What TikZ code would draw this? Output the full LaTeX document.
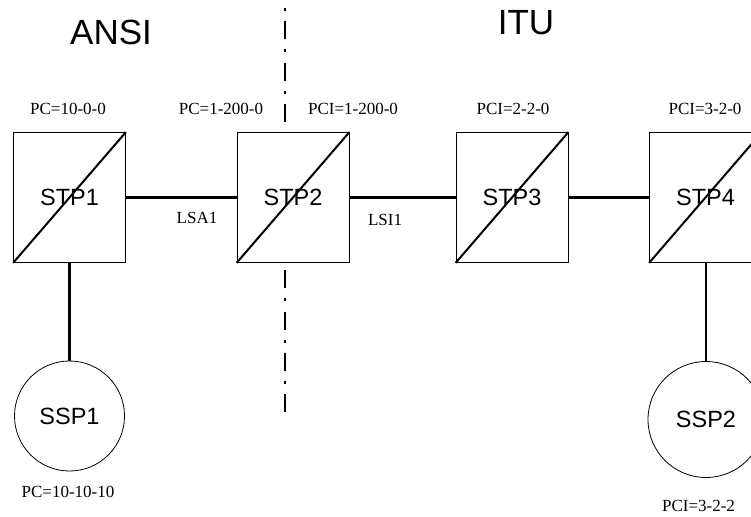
\documentclass[tikz,border=0pt]{standalone}
\usepackage{fontspec}
\setmainfont{Liberation Serif}
\newfontfamily\arialfont{Liberation Sans}
\usetikzlibrary{positioning}

\tikzset{
  stpbox/.style={draw, fill=white, line width=0.8pt, minimum width=112pt, minimum height=130pt, inner sep=0pt,
    font=\arialfont\fontsize{23.5}{26}\selectfont},
  sspcircle/.style={draw, circle, line width=0.8pt, inner sep=0pt, font=\arialfont\fontsize{23.5}{26}\selectfont},
  pclabel/.style={font=\fontsize{17}{20}\selectfont, inner sep=0pt},
  zonelabel/.style={font=\arialfont\fontsize{35}{40}\selectfont, inner sep=0pt},
  link/.style={line width=2.2pt},
  slash/.style={line width=2pt}
}

\begin{document}
\begin{tikzpicture}[x=1pt, y=-1pt]
  \useasboundingbox (0,0) rectangle (751,516);

  % Zones
  \node[zonelabel] (ansi) at (111,32) {ANSI};
  \node[zonelabel] (itu) at (526,23) {ITU};
  \coordinate (bordertop) at (285,8);
  \coordinate (borderbot) at (285,415);
  \draw[line width=2.2pt, dash pattern=on 3pt off 10.5pt on 18pt off 9.94pt] (bordertop) -- (borderbot);

  % STPs
  \node[stpbox] (stp1) at (69.5,197.5) {STP1};
  \node[stpbox] (stp2) at (293,197.5) {STP2};
  \node[stpbox] (stp3) at (512,197.5) {STP3};
  \node[stpbox] (stp4) at (705.5,197.5) {STP4};
  \foreach \n in {stp1,stp2,stp3,stp4}
    \draw[slash] (\n.south west) -- (\n.north east);

  % SSPs
  \node[sspcircle, minimum size=110pt] (ssp1) at (69.5,416) {SSP1};
  \node[sspcircle, minimum size=116pt] (ssp2) at (706,419.5) {SSP2};

  % Links
  \draw[link] (stp1.east) -- (stp2.west);
  \draw[link] (stp2.east) -- (stp3.west);
  \draw[link] (stp3.east) -- (stp4.west);
  \draw[link] (stp1.south) -- (ssp1.north);
  \draw[link] (stp4.south -| ssp2.north) -- (ssp2.north);

  % Point codes
  \node[pclabel] (pc1) at (68,109) {PC=10-0-0};
  \node[pclabel] (pc2) at (221,109) {PC=1-200-0};
  \node[pclabel] (pci2) at (353,109) {PCI=1-200-0};
  \node[pclabel] (pci3) at (513,109) {PCI=2-2-0};
  \node[pclabel] (pci4) at (705,109) {PCI=3-2-0};
  \node[pclabel] (pcssp1) at (68,492) {PC=10-10-10};
  \node[pclabel] (pcissp2) at (698.5,506) {PCI=3-2-2};

  % Link sets
  \node[pclabel] (lsa1) at (197,218) {LSA1};
  \node[pclabel] (lsi1) at (385,220) {LSI1};
\end{tikzpicture}
\end{document}
